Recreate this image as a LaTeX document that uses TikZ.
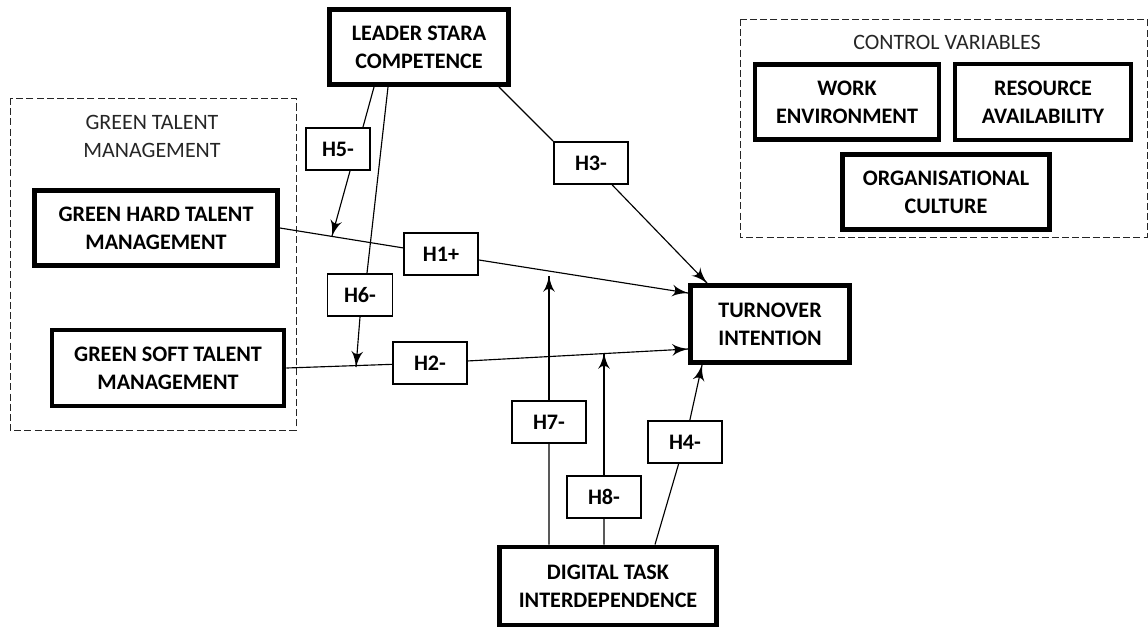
\documentclass[tikz,border=0pt]{standalone}
\usepackage{fontspec}
\setmainfont{Carlito}
\usepackage{tikz}
\usetikzlibrary{arrows}
\usetikzlibrary{decorations.markings}
\usetikzlibrary{positioning}
\tikzset{->/.style = {decoration={markings,
                                  mark=at position 1 with {\arrow[scale=1.9]{latex'}}},
                      postaction={decorate}}}
\tikzset{construct/.style = {draw, line width=2.8pt, align=center, inner sep=0pt,
                             font=\fontsize{12.6}{16}\selectfont\bfseries},
         hyp/.style = {draw, line width=1.1pt, fill=white, inner sep=0pt,
                       minimum width=1.48cm, minimum height=0.84cm,
                       font=\fontsize{12.6}{16}\selectfont\bfseries},
         grpbox/.style = {draw, line width=0.5pt, dash pattern=on 4pt off 1.8pt},
         grplabel/.style = {align=center, font=\fontsize{12.5}{16}\selectfont}}
\definecolor{dgray}{rgb}{0.15, 0.15, 0.15}

\begin{document}
\begin{tikzpicture}[x=0.02cm, y=-0.02cm, line width=0.65pt]
    \useasboundingbox (0, 0) rectangle (1148, 630);

    \draw [grpbox, dgray] (10, 98) rectangle (296, 430);
    \draw [grpbox, dgray] (740, 19) rectangle (1147, 237);
    \node [grplabel, dgray] (gtmlabel) at (152, 136) {GREEN TALENT\\MANAGEMENT};
    \node [grplabel, dgray] (cvlabel) at (947, 42) {CONTROL VARIABLES};

    \node [construct, minimum width=3.58cm, minimum height=1.5cm] (lsc) at (419, 47) {LEADER STARA\\COMPETENCE};
    \node [construct, minimum width=4.86cm, minimum height=1.5cm] (ghtm) at (156, 228) {GREEN HARD TALENT\\MANAGEMENT};
    \node [construct, minimum width=4.64cm, minimum height=1.52cm] (gstm) at (168, 368) {GREEN SOFT TALENT\\MANAGEMENT};
    \node [construct, minimum width=3.18cm, minimum height=1.54cm] (ti) at (770, 324) {TURNOVER\\INTENTION};
    \node [construct, minimum width=4.34cm, minimum height=1.56cm] (dti) at (608, 586) {DIGITAL TASK\\INTERDEPENDENCE};
    \node [construct, minimum width=3.68cm, minimum height=1.5cm] (wen) at (847, 102) {WORK\\ENVIRONMENT};
    \node [construct, minimum width=3.52cm, minimum height=1.52cm] (rav) at (1043, 102) {RESOURCE\\AVAILABILITY};
    \node [construct, minimum width=4.14cm, minimum height=1.5cm] (ocu) at (946, 192) {ORGANISATIONAL\\CULTURE};

    \node [hyp] (h1) at (441, 254) {H1+};
    \node [hyp] (h2) at (430, 363) {H2-};
    \node [hyp] (h3) at (591, 163) {H3-};
    \node [hyp] (h4) at (685, 442) {H4-};
    \node [hyp, minimum width=1.28cm] (h5) at (338, 149) {H5-};
    \node [hyp, minimum width=1.3cm] (h6) at (360, 295) {H6-};
    \node [hyp] (h7) at (549, 422) {H7-};
    \node [hyp] (h8) at (604, 497) {H8-};

    \coordinate (m5) at (332, 236);
    \coordinate (m6) at (356, 367);
    \coordinate (m7) at (549, 276);
    \coordinate (m8) at (604, 353);

    \draw (ghtm.east) -- (h1);
    \draw [->] (h1) -- ([yshift=0.62cm]ti.west);
    \draw (gstm.east) -- (h2);
    \draw [->] (h2) -- ([yshift=-0.5cm]ti.west);

    \draw ([xshift=1.6cm]lsc.south) -- (h3.north west);
    \draw [->] (h3) -- ([xshift=-1.26cm]ti.north);
    \draw ([xshift=0.94cm]dti.north) -- (h4);
    \draw [->] (h4) -- ([xshift=-1.36cm]ti.south);

    \draw ([xshift=-0.9cm]lsc.south) -- ([xshift=0.5cm]h5.north);
    \draw [->] ([xshift=0.24cm]h5.south) -- (m5);
    \draw ([xshift=-0.62cm]lsc.south) -- ([xshift=0.14cm]h6.north);
    \draw [->] (h6.south) -- (m6);

    \draw ([xshift=-1.18cm]dti.north) -- (h7);
    \draw [->] (h7) -- (m7);
    \draw ([xshift=-0.08cm]dti.north) -- (h8);
    \draw [->] (h8) -- (m8);
  \end{tikzpicture}
\end{document}
